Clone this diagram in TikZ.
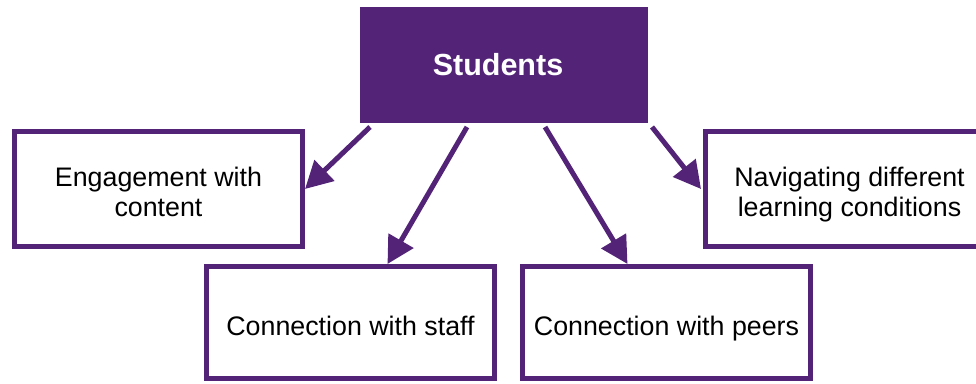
\documentclass[tikz,border=0pt]{standalone}
\usepackage{fontspec}
\setmainfont{Liberation Sans}
\usetikzlibrary{arrows.meta,calc}
\definecolor{uvpurple}{RGB}{82,35,119}
% box text, drawn a little below the box centre
\newcommand{\boxtext}[1]{\raisebox{-7pt}[\height][\depth]{\begin{tabular}{@{}c@{}}#1\end{tabular}}}
\begin{document}
\begin{tikzpicture}[x=1pt,y=1pt,
  topbox/.style={rectangle, fill=uvpurple, minimum width=288pt, minimum height=116pt,
    inner sep=0pt, outer sep=0pt, text=white,
    font=\fontsize{30.5}{34}\selectfont\bfseries},
  itembox/.style={rectangle, draw=uvpurple, line width=5pt, fill=white,
    minimum width=288pt, minimum height=115pt, inner sep=0pt, align=center,
    font=\fontsize{26.8}{30}\selectfont},
  arr/.style={draw=uvpurple, line width=5pt,
    -{Triangle[length=27pt,width=28pt]}}]
\useasboundingbox (0,0) rectangle (976,383);
\clip (0,0) rectangle (976,383);

% central box
\node[topbox] (stu) at (504,318) {\hspace*{-12pt}\raisebox{-1pt}{Students}};

% outcome boxes
\node[itembox] (eng) at (158.5,194) {\boxtext{Engagement with\\content}};
\node[itembox] (nav) at (849.5,194) {\boxtext{Navigating different\\learning conditions}};
\node[itembox, minimum height=112pt] (stf) at (350.5,60.5) {\boxtext{Connection with staff}};
\node[itembox, minimum height=112pt] (per) at (666.5,60.5) {\boxtext{Connection with peers}};

% connectors
\draw[arr] ($(stu.south west)+(10,-4)$) -- (eng.east);
\draw[arr] ($(stu.south west)+(107,-4)$) -- ($(stf.north)+(37,0)$);
\draw[arr] ($(stu.south west)+(185,-4)$) -- ($(per.north)+(-39,0)$);
\draw[arr] ($(stu.south east)+(4,-4)$) -- ($(nav.west)+(-2,0)$);
\end{tikzpicture}
\end{document}
